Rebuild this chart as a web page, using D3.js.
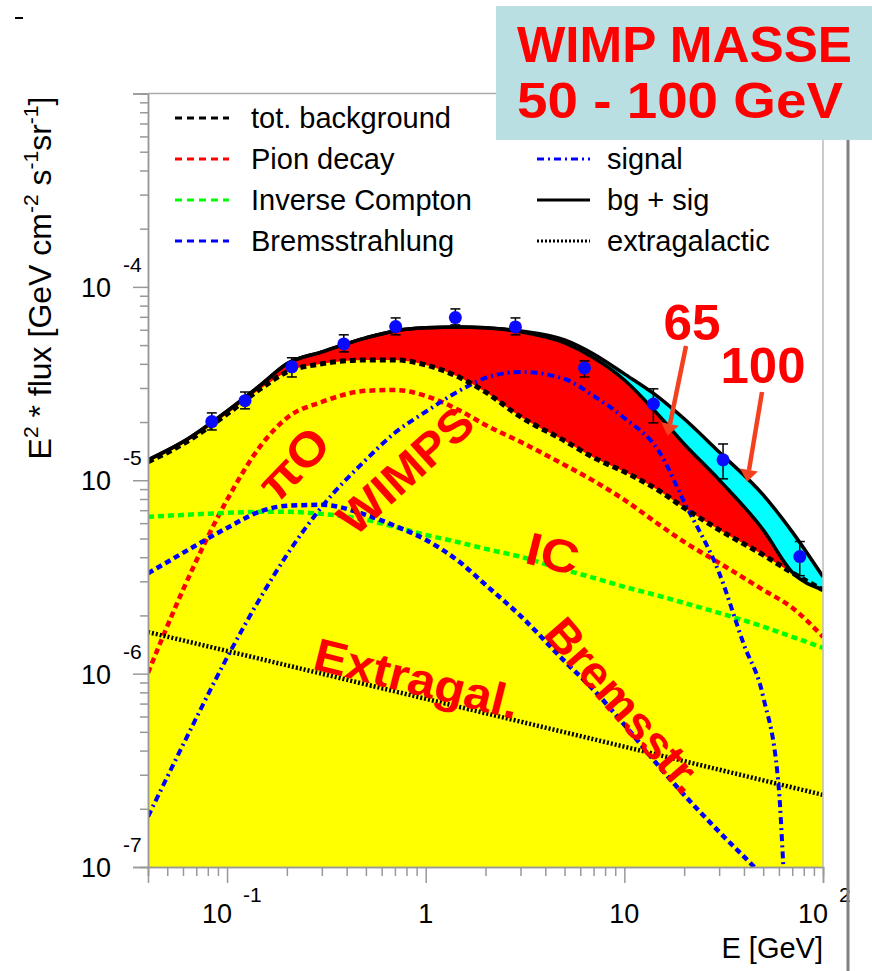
<!DOCTYPE html>
<html>
<head>
<meta charset="utf-8">
<script src="https://cdn.jsdelivr.net/npm/d3@7"></script>
<style>
body { margin: 0; background: #fff; }
svg text { font-family: "Liberation Sans", Arial, sans-serif; }
</style>
</head>
<body>
<div id="chart"></div>
<script>
"use strict";

// energy grid (GeV) used by the background components
var energies = [0.04, 0.06, 0.1, 0.15, 0.2, 0.3, 0.5, 0.7, 1, 1.5, 2, 3, 5, 7, 10, 15, 20, 30, 50, 70, 100];
var totBackground = [1.245e-5, 1.54e-5, 2.20e-5, 3.01e-5, 3.63e-5, 4.00e-5, 4.19e-5, 4.19e-5, 3.95e-5, 3.38e-5, 2.86e-5, 2.13e-5, 1.60e-5, 1.31e-5, 1.105e-5, 8.81e-6, 7.20e-6, 5.54e-6, 4.11e-6, 3.32e-6, 2.71e-6];
var pionDecay = [1.01e-6, 2.71e-6, 7.92e-6, 1.54e-5, 2.10e-5, 2.54e-5, 2.90e-5, 2.93e-5, 2.73e-5, 2.28e-5, 1.93e-5, 1.58e-5, 1.20e-5, 9.93e-6, 7.92e-6, 5.88e-6, 4.80e-6, 3.74e-6, 2.71e-6, 2.19e-6, 1.55e-6];
var inverseCompton = [6.47e-6, 6.62e-6, 6.78e-6, 6.87e-6, 6.87e-6, 6.70e-6, 6.24e-6, 5.74e-6, 5.22e-6, 4.75e-6, 4.42e-6, 4.02e-6, 3.44e-6, 3.13e-6, 2.81e-6, 2.52e-6, 2.32e-6, 2.06e-6, 1.75e-6, 1.55e-6, 1.36e-6];
var bremsstrahlung = [3.30e-6, 4.21e-6, 5.67e-6, 6.95e-6, 7.38e-6, 7.46e-6, 6.62e-6, 5.81e-6, 4.92e-6, 3.74e-6, 2.88e-6, 1.99e-6, 1.16e-6, 8.25e-7, 5.44e-7, 3.30e-7, 2.36e-7, 1.52e-7, 8.9e-8, 5.9e-8, 4.0e-8];
var bgSig65 = [1.275e-5, 1.58e-5, 2.28e-5, 3.15e-5, 4.00e-5, 4.61e-5, 5.45e-5, 5.92e-5, 6.14e-5, 6.21e-5, 6.14e-5, 5.85e-5, 5.13e-5, 4.30e-5, 3.30e-5, 2.15e-5, 1.54e-5, 1.005e-5, 5.54e-6, 3.34e-6, 2.72e-6];
var bgSig100 = [1.275e-5, 1.58e-5, 2.28e-5, 3.15e-5, 4.00e-5, 4.61e-5, 5.45e-5, 5.92e-5, 6.14e-5, 6.21e-5, 6.14e-5, 5.92e-5, 5.32e-5, 4.50e-5, 3.55e-5, 2.67e-5, 2.08e-5, 1.40e-5, 8.40e-6, 5.41e-6, 3.17e-6];

// WIMP signal (65 GeV)
var signalEnergies = [0.04, 0.06, 0.1, 0.15, 0.2, 0.3, 0.5, 0.7, 1, 1.5, 2, 3, 5, 7, 10, 15, 20, 30, 40, 50, 60, 63, 64.5];
var signal65 = [1.82e-7, 4.28e-7, 1.21e-6, 2.55e-6, 4.11e-6, 7.29e-6, 1.275e-5, 1.76e-5, 2.26e-5, 2.93e-5, 3.38e-5, 3.63e-5, 3.34e-5, 2.73e-5, 2.10e-5, 1.40e-5, 7.73e-6, 3.32e-6, 1.41e-6, 7.59e-7, 2.51e-7, 1.06e-7, 6.8e-8];

var extragalEnergies = [0.04, 0.1, 1, 10, 100];
var extragalactic = [1.64e-6, 1.31e-6, 7.41e-7, 4.19e-7, 2.36e-7];

// data points
var pointE = [0.0838, 0.1232, 0.212, 0.387, 0.706, 1.41, 2.83, 6.30, 14.0, 31.4, 76.4];
var pointFlux = [2.01e-5, 2.58e-5, 3.86e-5, 5.07e-5, 6.23e-5, 6.94e-5, 6.21e-5, 3.81e-5, 2.48e-5, 1.275e-5, 4.03e-6];
var pointHi = [2.23e-5, 2.86e-5, 4.30e-5, 5.65e-5, 6.91e-5, 7.69e-5, 6.91e-5, 4.14e-5, 2.97e-5, 1.54e-5, 4.82e-6];
var pointLo = [1.82e-5, 2.34e-5, 3.42e-5, 4.61e-5, 5.65e-5, 6.36e-5, 5.65e-5, 3.42e-5, 1.98e-5, 1.017e-5, 3.21e-6];

// tick labels
var xTickValues = [0.1, 1, 10, 100];
var xTickBase = ["10", "1", "10", "10"];
var xTickExp = ["-1", "", "", "2"];
var yTickValues = [1e-7, 1e-6, 1e-5, 1e-4];
var yTickExp = ["-7", "-6", "-5", "-4"];

var legendLeft = ["tot. background", "Pion decay", "Inverse Compton", "Bremsstrahlung"];
var legendRight = ["signal", "bg + sig", "extragalactic"];

var W = 872, H = 971;
var pLeft = 148, pRight = 823, pTop = 93.5, pBottom = 867;

var svg = d3.select("#chart").append("svg").attr("width", W).attr("height", H);

var x = d3.scaleLog().domain([0.04, 100]).range([pLeft, pRight]);
var y = d3.scaleLog().domain([1e-7, 1e-3]).range([pBottom, pTop]);

svg.append("defs").append("clipPath").attr("id", "plotclip")
  .append("rect").attr("x", pLeft).attr("y", pTop).attr("width", pRight - pLeft).attr("height", pBottom - pTop);

var plot = svg.append("g").attr("clip-path", "url(#plotclip)");

function pairs(xs, ys) {
  return xs.map(function (e, i) { return [e, ys[i]]; });
}

var area = d3.area().curve(d3.curveMonotoneX)
  .x(function (d) { return x(d[0]); })
  .y0(pBottom)
  .y1(function (d) { return y(d[1]); });
var line = d3.line().curve(d3.curveMonotoneX)
  .x(function (d) { return x(d[0]); })
  .y(function (d) { return y(d[1]); });

// filled bands: cyan (100 GeV), red (65 GeV), yellow (background)
plot.append("path").datum(pairs(energies, bgSig100)).attr("d", area).attr("fill", "#00ffff");
plot.append("path").datum(pairs(energies, bgSig65)).attr("d", area).attr("fill", "#ff0000");
plot.append("path").datum(pairs(energies, totBackground)).attr("d", area).attr("fill", "#ffff00");

var curves = [
  { data: pairs(energies, pionDecay), color: "#ff0000", dash: "6,4", w: 4.5 },
  { data: pairs(energies, inverseCompton), color: "#00ff00", dash: "6,4", w: 4.5 },
  { data: pairs(energies, bremsstrahlung), color: "#0000ff", dash: "6,4", w: 4.5 },
  { data: pairs(extragalEnergies, extragalactic), color: "#000", dash: "2,2", w: 4.5 },
  { data: pairs(signalEnergies, signal65), color: "#0000ff", dash: "7,4,2,4", w: 4 },
  { data: pairs(energies, totBackground), color: "#000", dash: "6,4", w: 5 },
  { data: pairs(energies, bgSig65), color: "#000", dash: null, w: 3.5 },
  { data: pairs(energies, bgSig100), color: "#000", dash: null, w: 3.5 }
];
curves.forEach(function (c) {
  plot.append("path").datum(c.data).attr("d", line)
    .attr("fill", "none").attr("stroke", c.color).attr("stroke-width", c.w)
    .attr("stroke-dasharray", c.dash);
});

// data points with error bars
var pts = plot.append("g").selectAll("g").data(pointE).enter().append("g");
pts.append("line")
  .attr("x1", function (d) { return x(d); }).attr("x2", function (d) { return x(d); })
  .attr("y1", function (d, i) { return y(pointHi[i]); }).attr("y2", function (d, i) { return y(pointLo[i]); })
  .attr("stroke", "#000").attr("stroke-width", 1.5);
[pointHi, pointLo].forEach(function (arr) {
  pts.append("line")
    .attr("x1", function (d) { return x(d) - 5; }).attr("x2", function (d) { return x(d) + 5; })
    .attr("y1", function (d, i) { return y(arr[i]); }).attr("y2", function (d, i) { return y(arr[i]); })
    .attr("stroke", "#000").attr("stroke-width", 1.5);
});
pts.append("circle")
  .attr("cx", function (d) { return x(d); })
  .attr("cy", function (d, i) { return y(pointFlux[i]); })
  .attr("r", 6.5).attr("fill", "#0a0aff");

// axes (ROOT style, outward grey ticks)
var tickColor = "#999";
function minorTicks(lo, hi) {
  var t = [];
  for (var p = lo; p < hi; p++) for (var m = 2; m < 10; m++) t.push(m * Math.pow(10, p));
  return t;
}
var yAxisMinor = d3.axisLeft(y).tickValues(minorTicks(-7, -3)).tickSize(8).tickFormat("");
var yAxisMajor = d3.axisLeft(y).tickValues(yTickValues.concat([1e-3])).tickSize(15).tickFormat("");
var xAxisMinor = d3.axisBottom(x).tickValues(minorTicks(-2, 2).filter(function (v) { return v >= 0.04; })).tickSize(9).tickFormat("");
var xAxisMajor = d3.axisBottom(x).tickValues(xTickValues).tickSize(16).tickFormat("");

[yAxisMinor, yAxisMajor].forEach(function (a) {
  svg.append("g").attr("transform", "translate(" + pLeft + ",0)").call(a);
});
[xAxisMinor, xAxisMajor].forEach(function (a) {
  svg.append("g").attr("transform", "translate(0," + pBottom + ")").call(a);
});
svg.selectAll(".tick line").attr("stroke", tickColor).attr("stroke-width", 1.5);
svg.selectAll(".domain").attr("stroke", tickColor).attr("stroke-width", 1.5);

// frame top and right
svg.append("line").attr("x1", pLeft).attr("x2", pRight).attr("y1", pTop).attr("y2", pTop)
  .attr("stroke", "#aaa").attr("stroke-width", 1.5);
svg.append("line").attr("x1", pRight).attr("x2", pRight).attr("y1", pTop).attr("y2", pBottom)
  .attr("stroke", "#bbb").attr("stroke-width", 1.5);

// y tick labels
yTickValues.forEach(function (v, i) {
  var ty = y(v);
  svg.append("text").attr("x", 111).attr("y", ty + 10).attr("text-anchor", "end")
    .attr("font-size", 27).text("10");
  svg.append("text").attr("x", 123).attr("y", ty - 15).attr("font-size", 21).text(yTickExp[i]);
});

// x tick labels
xTickValues.forEach(function (v, i) {
  var tx = x(v);
  if (xTickExp[i]) {
    svg.append("text").attr("x", tx - 10).attr("y", 923).attr("text-anchor", "middle")
      .attr("font-size", 27).text(xTickBase[i]);
    svg.append("text").attr("x", tx + 16).attr("y", 902).attr("font-size", 21).text(xTickExp[i]);
  } else {
    svg.append("text").attr("x", tx).attr("y", 923).attr("text-anchor", "middle")
      .attr("font-size", 27).text(xTickBase[i]);
  }
});

// axis titles
svg.append("text").attr("x", pRight).attr("y", 958).attr("text-anchor", "end")
  .attr("font-size", 29).text("E [GeV]");

var yt = svg.append("text").attr("transform", "translate(51,278) rotate(-90)")
  .attr("text-anchor", "middle").attr("font-size", 32);
[["E", 0], ["2", -1], [" * flux [GeV cm", 1], ["-2", -1], [" s", 1], ["-1", -1], ["sr", 1], ["-1", -1], ["]", 1]]
  .forEach(function (p, i) {
    var ts = yt.append("tspan").text(p[0]);
    if (p[1] < 0) ts.attr("font-size", 21).attr("dy", -13);
    else if (i > 0) ts.attr("dy", 13);
  });

// legend
var legY = [118, 159, 200, 241];
var legStyles = [
  { c: "#000", d: "7,5" }, { c: "#ff0000", d: "7,5" }, { c: "#00ff00", d: "7,5" }, { c: "#0000ff", d: "7,5" }
];
legendLeft.forEach(function (t, i) {
  svg.append("line").attr("x1", 175).attr("x2", 229).attr("y1", legY[i]).attr("y2", legY[i])
    .attr("stroke", legStyles[i].c).attr("stroke-width", 3).attr("stroke-dasharray", legStyles[i].d);
  svg.append("text").attr("x", 251).attr("y", legY[i] + 10).attr("font-size", 29).text(t);
});
var legStylesR = [
  { c: "#0000ff", d: "7,4,2,4" }, { c: "#000", d: null }, { c: "#000", d: "2,2" }
];
legendRight.forEach(function (t, i) {
  svg.append("line").attr("x1", 537).attr("x2", 590).attr("y1", legY[i + 1]).attr("y2", legY[i + 1])
    .attr("stroke", legStylesR[i].c).attr("stroke-width", 3).attr("stroke-dasharray", legStylesR[i].d);
  svg.append("text").attr("x", 607).attr("y", legY[i + 1] + 10).attr("font-size", 29).text(t);
});

// right grey rule and stray mark
svg.append("line").attr("x1", 848).attr("x2", 848).attr("y1", 6).attr("y2", H)
  .attr("stroke", "#808080").attr("stroke-width", 3);
svg.append("line").attr("x1", 15).attr("x2", 23).attr("y1", 18).attr("y2", 18)
  .attr("stroke", "#000").attr("stroke-width", 2);

// title box
svg.append("rect").attr("x", 496).attr("y", 6).attr("width", 376).attr("height", 134).attr("fill", "#badfe2");
var red = "#ff0000";
svg.append("text").attr("x", 517).attr("y", 62).attr("font-size", 50).attr("font-weight", "bold")
  .attr("fill", red).attr("textLength", 335).attr("lengthAdjust", "spacingAndGlyphs").text("WIMP MASSE");
svg.append("text").attr("x", 517).attr("y", 118).attr("font-size", 50).attr("font-weight", "bold")
  .attr("fill", red).attr("textLength", 326).attr("lengthAdjust", "spacingAndGlyphs").text("50 - 100 GeV");

// hand annotations
var notes = [
  { t: "\u03c0O", x: 293, y: 463, a: -46, s: 48, len: 80 },
  { t: "WIMPS", x: 405, y: 470, a: -42, s: 46, len: 165 },
  { t: "IC", x: 553, y: 553, a: 14, s: 46, len: 53 },
  { t: "Extragal.", x: 417, y: 678, a: 14, s: 46, len: 210 },
  { t: "Bremsstr.", x: 625, y: 705, a: 49, s: 46, len: 215 },
  { t: "65", x: 692, y: 322, a: 0, s: 50, len: 57 },
  { t: "100", x: 763, y: 365, a: 0, s: 50, len: 85 }
];
notes.forEach(function (n) {
  svg.append("text").attr("transform", "translate(" + n.x + "," + n.y + ") rotate(" + n.a + ")")
    .attr("text-anchor", "middle").attr("dy", "0.36em").attr("font-size", n.s).attr("font-weight", "bold")
    .attr("fill", red).attr("textLength", n.len).attr("lengthAdjust", "spacingAndGlyphs").text(n.t);
});

// arrows to the two curves
var arrowColor = "#f4401f";
[[[686, 346], [670, 424]], [[762, 392], [749, 470]]].forEach(function (ar) {
  var p0 = ar[0], p1 = ar[1];
  var ang = Math.atan2(p1[1] - p0[1], p1[0] - p0[0]);
  svg.append("line").attr("x1", p0[0]).attr("y1", p0[1]).attr("x2", p1[0]).attr("y2", p1[1])
    .attr("stroke", arrowColor).attr("stroke-width", 4.5);
  var tip = [p1[0] + 12 * Math.cos(ang), p1[1] + 12 * Math.sin(ang)];
  var b1 = [p1[0] + 9 * Math.cos(ang + Math.PI / 2), p1[1] + 9 * Math.sin(ang + Math.PI / 2)];
  var b2 = [p1[0] - 9 * Math.cos(ang + Math.PI / 2), p1[1] - 9 * Math.sin(ang + Math.PI / 2)];
  svg.append("path").attr("d", "M" + tip + "L" + b1 + "L" + b2 + "Z").attr("fill", arrowColor);
});
</script>
</body>
</html>
